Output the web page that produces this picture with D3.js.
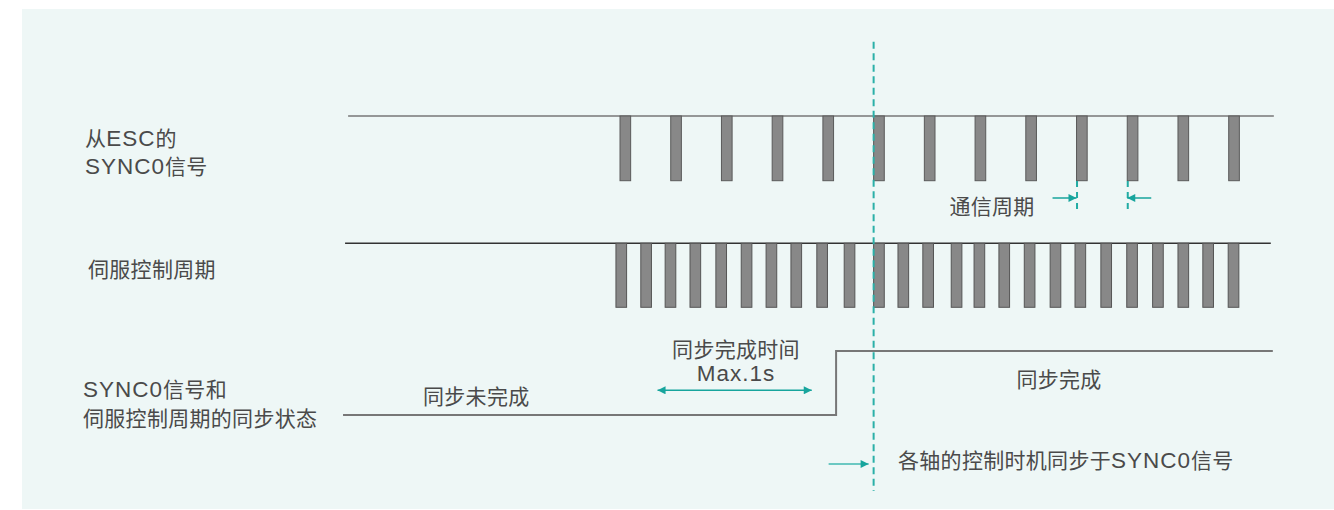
<!DOCTYPE html>
<html>
<head>
<meta charset="utf-8">
<script src="https://cdn.jsdelivr.net/npm/d3@7/dist/d3.min.js"></script>
<style>
  html, body { margin: 0; padding: 0; background: #ffffff; }
  svg { display: block; }
  text { font-family: "Liberation Sans", "Noto Sans CJK SC", sans-serif; fill: #4a4a4a; }
</style>
</head>
<body>
<svg id="chart" width="1334" height="510"></svg>
<script>
// ---- data (time in SYNC0 communication cycles) ----
const sync0Pulses = [0, 1, 2, 3, 4, 5, 6, 7, 8, 9, 10, 11, 12];
const servoPulses = [-0.08, 0.41, 0.89, 1.38, 1.89, 2.39, 2.88, 3.37, 3.88, 4.42,
                     5.0, 5.48, 5.97, 6.53, 6.98, 7.47, 7.97, 8.48, 8.97, 9.48,
                     9.99, 10.5, 11.0, 11.49, 11.99];
const pulseWidth = 0.21;
const sync0Span = [-5.36, 12.89];
const servoSpan = [-5.42, 12.83];
const syncState = [{t: -5.46, v: 0}, {t: 4.26, v: 0}, {t: 4.26, v: 1}, {t: 12.87, v: 1}];
const syncTime = 5.0;              // moment both become synchronous
const maxSyncWindow = [0.74, 3.78]; // 同步完成时间 Max.1s
const commCycle = [9, 10];          // 通信周期 marker
const rowLabels = [
  {lines: ["从ESC的", "SYNC0信号"], row: "sync0"},
  {lines: ["伺服控制周期"], row: "servo"},
  {lines: ["SYNC0信号和", "伺服控制周期的同步状态"], row: "state"}
];

// ---- layout ----
const svg = d3.select("#chart");
const x = d3.scaleLinear().domain([0, 12]).range([620, 1228.7]);
const yS = d3.scaleLinear().domain([0, 1]).range([180.7, 116]);    // SYNC0 row
const yV = d3.scaleLinear().domain([0, 1]).range([307.3, 243.3]);  // servo row
const yT = d3.scaleLinear().domain([0, 1]).range([415, 351]);      // state row
const teal = "#17a59d";
const FS = 21;

function label(px, py, str, anchor) {
  const t = svg.append("text").attr("x", px).attr("y", py)
    .attr("text-anchor", anchor || "start").attr("dominant-baseline", "central")
    .attr("font-size", FS);
  (str.match(/[A-Za-z0-9.]+|[^A-Za-z0-9.]+/g) || []).forEach(seg => {
    const sp = t.append("tspan").text(seg);
    if (/^[A-Za-z0-9.]+$/.test(seg)) sp.attr("font-size", 22.5).attr("letter-spacing", "1px");
    else sp.attr("letter-spacing", "0.3px");
  });
  return t;
}

svg.append("rect").attr("x", 22).attr("y", 9).attr("width", 1312).attr("height", 500)
  .attr("fill", "#eef7f6");

const defs = svg.append("defs");
defs.append("marker").attr("id", "ah").attr("viewBox", "0 0 10 10")
  .attr("refX", 10).attr("refY", 5).attr("markerWidth", 10).attr("markerHeight", 8)
  .attr("markerUnits", "userSpaceOnUse").attr("orient", "auto-start-reverse")
  .append("path").attr("d", "M0,0 L10,5 L0,10 Z").attr("fill", teal);

// SYNC0 row
svg.append("line").attr("x1", x(sync0Span[0])).attr("x2", x(sync0Span[1]))
  .attr("y1", yS(1)).attr("y2", yS(1)).attr("stroke", "#777").attr("stroke-width", 1.5);
svg.append("g").selectAll("rect").data(sync0Pulses).join("rect")
  .attr("x", d => x(d)).attr("y", yS(1))
  .attr("width", x(pulseWidth) - x(0)).attr("height", yS(0) - yS(1))
  .attr("fill", "#888").attr("stroke", "#5a5a5a").attr("stroke-width", 1);

// servo row
svg.append("line").attr("x1", x(servoSpan[0])).attr("x2", x(servoSpan[1]))
  .attr("y1", yV(1)).attr("y2", yV(1)).attr("stroke", "#333").attr("stroke-width", 1.5);
svg.append("g").selectAll("rect").data(servoPulses).join("rect")
  .attr("x", d => x(d)).attr("y", yV(1))
  .attr("width", x(pulseWidth) - x(0)).attr("height", yV(0) - yV(1))
  .attr("fill", "#888").attr("stroke", "#555").attr("stroke-width", 1);

// state row
svg.append("path").datum(syncState)
  .attr("d", d3.line().x(d => x(d.t)).y(d => yT(d.v)))
  .attr("fill", "none").attr("stroke", "#777").attr("stroke-width", 2);

// sync moment dashed line
svg.append("line").attr("x1", x(syncTime)).attr("x2", x(syncTime))
  .attr("y1", 41.7).attr("y2", 491).attr("stroke", "#2bb0a8")
  .attr("stroke-width", 2).attr("stroke-dasharray", "7,4.5");

// comm cycle markers
commCycle.forEach(t => {
  svg.append("line").attr("x1", x(t) + 0.5).attr("x2", x(t) + 0.5).attr("y1", 181).attr("y2", 213)
    .attr("stroke", "#22aca4").attr("stroke-width", 2).attr("stroke-dasharray", "6,5");
});
svg.append("line").attr("x1", x(commCycle[0]) - 24).attr("x2", x(commCycle[0]))
  .attr("y1", 198).attr("y2", 198).attr("stroke", teal).attr("stroke-width", 1.5)
  .attr("marker-end", "url(#ah)");
svg.append("line").attr("x1", x(commCycle[1]) + 24).attr("x2", x(commCycle[1]))
  .attr("y1", 198).attr("y2", 198).attr("stroke", teal).attr("stroke-width", 1.5)
  .attr("marker-end", "url(#ah)");
label(992, 206, "通信周期", "middle");

// Max window arrow
svg.append("line").attr("x1", x(maxSyncWindow[0])).attr("x2", x(maxSyncWindow[1]))
  .attr("y1", 390.3).attr("y2", 390.3).attr("stroke", teal).attr("stroke-width", 1.5)
  .attr("marker-start", "url(#ah)").attr("marker-end", "url(#ah)");
label(736, 349, "同步完成时间", "middle");
label(736, 373, "Max.1s", "middle");

label(423, 396, "同步未完成");
label(1059, 379, "同步完成", "middle");

// bottom note
svg.append("line").attr("x1", x(syncTime) - 45).attr("x2", x(syncTime) - 5)
  .attr("y1", 464).attr("y2", 464).attr("stroke", "#3fb8b0").attr("stroke-width", 1.5)
  .attr("marker-end", "url(#ah)");
label(898, 459.5, "各轴的控制时机同步于SYNC0信号");

// row labels
const labelPos = {sync0: {x: 85, ys: [137.5, 166]}, servo: {x: 88, ys: [269]}, state: {x: 83, ys: [389, 417.5]}};
rowLabels.forEach(r => {
  r.lines.forEach((ln, i) => label(labelPos[r.row].x, labelPos[r.row].ys[i], ln));
});
</script>
</body>
</html>
